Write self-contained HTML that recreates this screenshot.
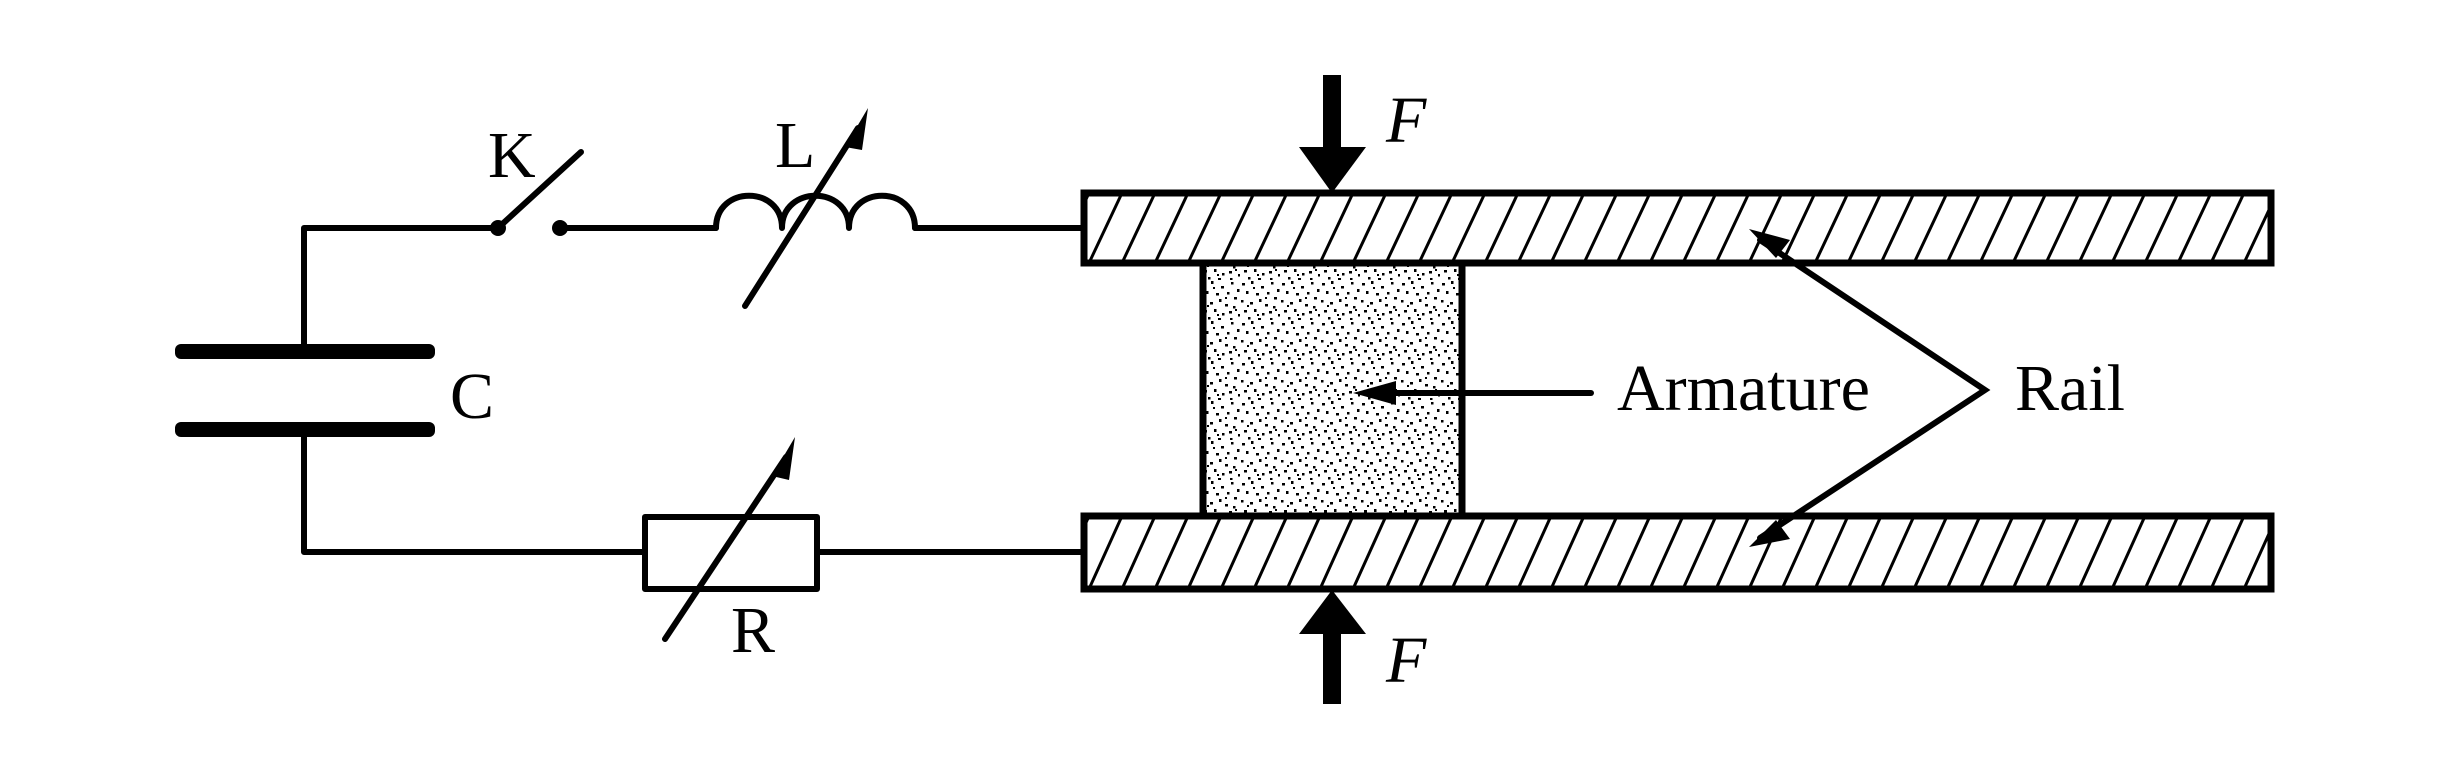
<!DOCTYPE html>
<html><head><meta charset="utf-8"><style>html,body{margin:0;padding:0;background:#fff}svg{display:block}</style></head>
<body>
<svg width="2447" height="780" viewBox="0 0 2447 780" xmlns="http://www.w3.org/2000/svg">
<defs>
<pattern id="hatch" patternUnits="userSpaceOnUse" width="33" height="70" x="0" y="193">
<line x1="-33" y1="70" x2="0" y2="0" stroke="#000" stroke-width="3"/>
<line x1="0" y1="70" x2="33" y2="0" stroke="#000" stroke-width="3"/>
<line x1="33" y1="70" x2="66" y2="0" stroke="#000" stroke-width="3"/>
</pattern>
<pattern id="hatch2" patternUnits="userSpaceOnUse" width="33" height="73" x="0" y="516">
<line x1="-33" y1="73" x2="0" y2="0" stroke="#000" stroke-width="3"/>
<line x1="0" y1="73" x2="33" y2="0" stroke="#000" stroke-width="3"/>
<line x1="33" y1="73" x2="66" y2="0" stroke="#000" stroke-width="3"/>
</pattern>
<pattern id="dots" patternUnits="userSpaceOnUse" width="40" height="40">
<g fill="#000">
<rect x="2" y="3" width="3" height="2.5"/><rect x="11" y="1" width="2.5" height="3"/><rect x="21" y="6" width="3" height="2.5"/><rect x="31" y="2" width="2.5" height="2.5"/><rect x="37" y="9" width="2.5" height="3"/>
<rect x="6" y="11" width="2.5" height="3"/><rect x="16" y="13" width="3" height="2.5"/><rect x="27" y="12" width="2.5" height="2.5"/><rect x="34" y="17" width="3" height="2.5"/>
<rect x="1" y="20" width="2.5" height="2.5"/><rect x="10" y="22" width="3" height="2.5"/><rect x="19" y="19" width="2.5" height="3"/><rect x="25" y="24" width="3" height="2.5"/><rect x="33" y="26" width="2.5" height="2.5"/>
<rect x="4" y="30" width="3" height="2.5"/><rect x="14" y="29" width="2.5" height="3"/><rect x="22" y="33" width="2.5" height="2.5"/><rect x="29" y="31" width="3" height="2.5"/><rect x="38" y="34" width="2.5" height="2.5"/>
<rect x="8" y="37" width="2.5" height="2.5"/><rect x="18" y="38" width="3" height="2"/><rect x="30" y="38" width="2.5" height="2"/>
<rect x="13" y="7" width="2" height="2"/><rect x="25" y="17" width="2" height="2"/><rect x="7" y="25" width="2" height="2"/><rect x="35" y="29" width="2" height="2"/><rect x="17" y="34" width="2" height="2"/>
</g>
</pattern>
</defs>

<g stroke="#000" fill="none" stroke-width="6" stroke-linecap="round" stroke-linejoin="round">
<polyline points="304,344 304,228 498,228"/>
<polyline points="304,436 304,552 645,552"/>
<line x1="817" y1="552" x2="1084" y2="552"/>
<line x1="560" y1="228" x2="716" y2="228"/>
<line x1="915" y1="228" x2="1084" y2="228"/>
<line x1="498" y1="228" x2="581" y2="152"/>
<path d="M716,228 C716,185 782,185 782,228 C782,185 849,185 849,228 C849,185 915,185 915,228"/>
<line x1="745" y1="306" x2="858" y2="128"/>
<rect x="645" y="517" width="172" height="72"/>
<line x1="665" y1="639" x2="786" y2="457"/>
</g>
<g fill="#000">
<rect x="175" y="344" width="260" height="15" rx="6"/>
<rect x="175" y="422" width="260" height="15" rx="6"/>
<circle cx="498" cy="228" r="8"/><circle cx="560" cy="228" r="8"/>
<polygon points="868,108 845,147 862,150"/>
<polygon points="795,437 772,476 789,480"/>
</g>

<rect x="1084" y="193" width="1187" height="70" fill="url(#hatch)" stroke="#000" stroke-width="7"/>
<rect x="1084" y="516" width="1187" height="73" fill="url(#hatch2)" stroke="#000" stroke-width="7"/>
<rect x="1203" y="263" width="259" height="253" fill="url(#dots)" stroke="#000" stroke-width="7"/>

<g fill="#000">
<rect x="1323" y="75" width="18" height="80"/>
<polygon points="1299,147 1366,147 1332,193"/>
<rect x="1323" y="626" width="18" height="78"/>
<polygon points="1299,634 1366,634 1332,590"/>
</g>
<g stroke="#000" stroke-width="6" fill="none" stroke-linecap="round">
<line x1="1591" y1="393" x2="1385" y2="393"/>
<polyline points="1760,240 1985,390 1760,538"/>
</g>
<g fill="#000">
<polygon points="1353,393 1396,381 1396,405"/>
<polygon points="1749,229 1790,240 1776,258"/>
<polygon points="1749,547 1776,520 1790,539"/>
</g>

<g font-family="Liberation Serif, serif" font-size="66" fill="#000">
<text x="488" y="177">K</text>
<text x="775" y="167">L</text>
<text x="450" y="418">C</text>
<text x="731" y="652">R</text>
<text x="1617" y="410">Armature</text>
<text x="2015" y="410">Rail</text>
<text x="1386" y="142" font-style="italic">F</text>
<text x="1386" y="682" font-style="italic">F</text>
</g>
</svg>
</body></html>
